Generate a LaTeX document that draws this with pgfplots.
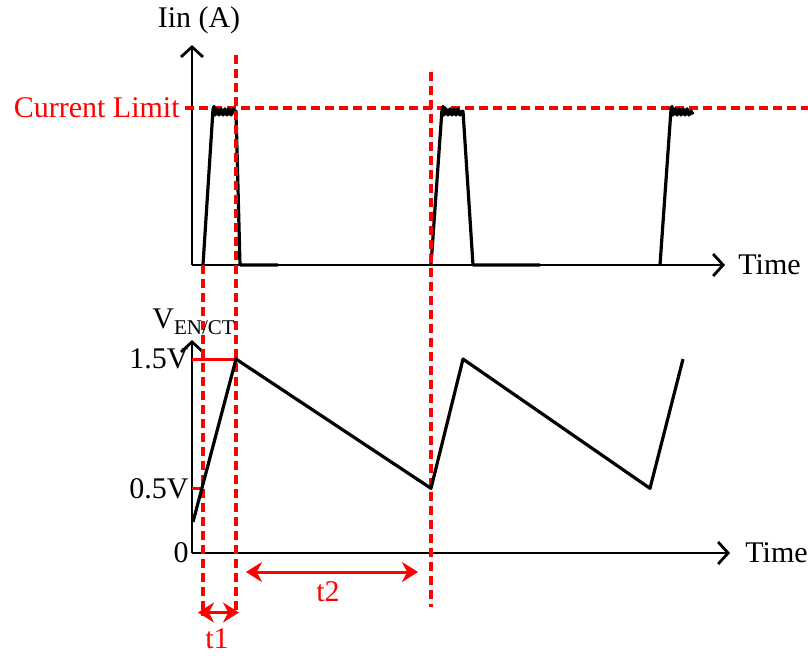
\documentclass[border=0pt]{standalone}
\usepackage{fontspec}
\setmainfont{Liberation Serif}
\usepackage{pgfplots}
\pgfplotsset{compat=1.18}
\usetikzlibrary{arrows.meta}
\newcommand\lbl{\fontsize{15}{18}\selectfont}

% 1 x unit = 1 px of the reference (time, arbitrary units)
\pgfplotsset{
  tdiag/.style={
    x=0.5pt, clip=false, axis lines=left, enlargelimits=false,
    axis line style={line width=1.4pt,-{Straight Barb[length=5pt,width=11pt,line width=1.4pt]}},
    xtick=\empty, ytick=\empty, xmin=0, ymin=0,
    major tick length=0pt,
    tick label style={font=\lbl},
    yticklabel style={inner sep=1.5pt},
  },
  wave/.style={black,line width=1.6pt,line join=round,no marks},
  guide/.style={red,line width=1.6pt,dash pattern=on 4.5pt off 2.5pt,no marks},
  dim/.style={red,line width=1.5pt,no marks},
}

\begin{document}
\begin{tikzpicture}
\useasboundingbox (0,0) rectangle (404pt,-327.5pt);

% ---- input current ----
\begin{axis}[tdiag, y=78.5pt, xmax=533, ymax=1.401,
  at={(96pt,-132.5pt)}, anchor=south west]
\addplot[guide] coordinates {(-7,1)(616,1)};
\addplot[wave] coordinates {(11,0)(21,0.99)(22,1.01)(23,0.955)(25,0.995)(27,0.955)(29,0.995)
  (31,0.955)(33,0.995)(35,0.955)(37,0.995)(39,0.955)(41,0.995)(43,0.965)(44,0.98)(48,0)(86,0)};
\addplot[wave] coordinates {(239,0)(250,0.99)(251,1.01)(252,0.955)(254,0.995)(256,0.955)
  (258,0.995)(260,0.955)(262,0.995)(264,0.955)(266,0.995)(268,0.955)(270,0.98)(271,0.98)(281,0)(348,0)};
\addplot[wave] coordinates {(468,0)(479,0.99)(480,1.01)(481,0.955)(483,0.995)(485,0.955)
  (487,0.995)(489,0.955)(491,0.995)(493,0.955)(495,0.995)(497,0.955)(499,0.98)(501,0.96)};
\node[red,anchor=east,font=\lbl,inner sep=0pt] at (axis cs:-12,1) {Current Limit};
\node[font=\lbl] at (axis cs:7,1.561) {Iin (A)};
\node[anchor=west,font=\lbl,inner sep=0pt] at (axis cs:546,0) {Time};
\end{axis}

% ---- EN/CT voltage ----
\begin{axis}[tdiag, y=64.65pt, xmax=538, ymax=1.647,
  ytick={0,0.5,1.5}, yticklabels={0,0.5V,1.5V},
  at={(96pt,-276.5pt)}, anchor=south west]
\addplot[dim] coordinates {(0,1.5)(44,1.5)};
\addplot[dim] coordinates {(0,0.5)(11,0.5)};
\addplot[guide] coordinates {(11,2.23)(11,-0.48)};
\addplot[guide] coordinates {(44,3.85)(44,-0.48)};
\addplot[guide] coordinates {(239,3.72)(239,-0.42)};
\addplot[wave] coordinates {(1,0.24)(44,1.5)(239,0.5)(271,1.5)(458,0.5)(491,1.5)};
\addplot[dim,{Stealth[length=8pt,width=10pt]}-{Stealth[length=8pt,width=10pt]}]
  coordinates {(6,-0.46)(47,-0.46)};
\addplot[dim,{Stealth[length=8pt,width=10pt]}-{Stealth[length=8pt,width=10pt]}]
  coordinates {(54,-0.147)(226,-0.147)};
\node[red,font=\lbl] at (axis cs:25,-0.665) {t1};
\node[red,font=\lbl] at (axis cs:136,-0.30) {t2};
\node[anchor=base west,font=\lbl,inner sep=0pt] at (axis cs:-40,1.74)
  {V\raisebox{-0.45ex}{\fontsize{10.5}{12}\selectfont EN/CT}};
\node[anchor=west,font=\lbl,inner sep=0pt] at (axis cs:553,0) {Time};
\end{axis}
\end{tikzpicture}
\end{document}
